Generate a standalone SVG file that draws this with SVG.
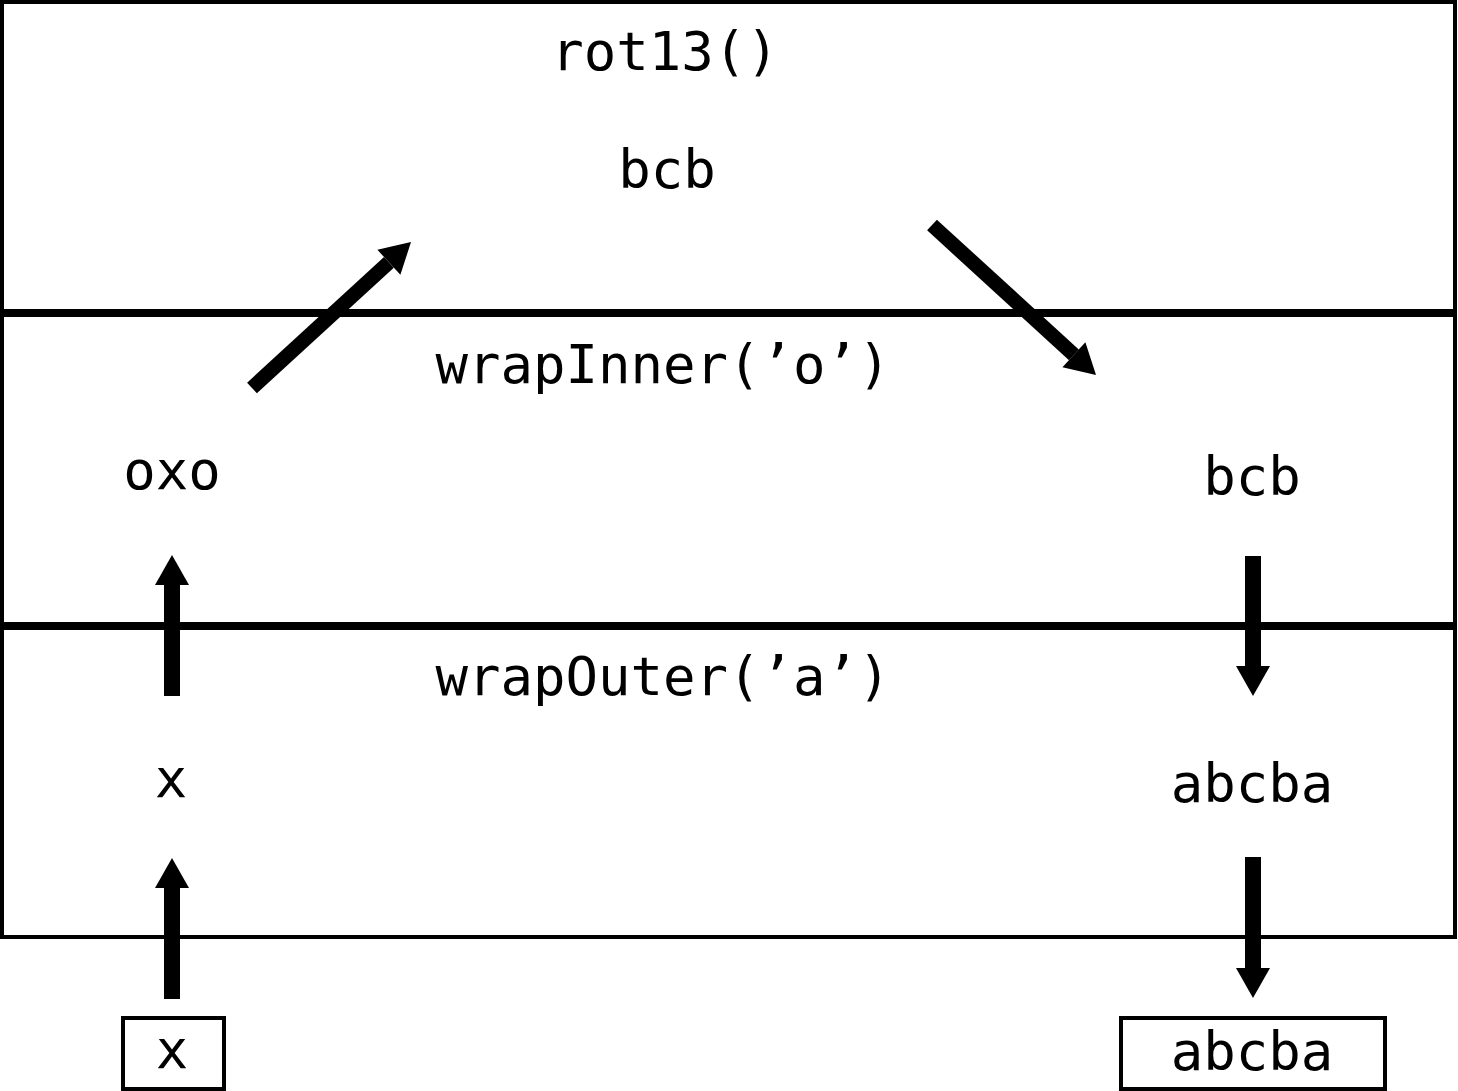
<svg xmlns="http://www.w3.org/2000/svg" width="1458" height="1091" viewBox="0 0 1458 1091">
<style>
  text { font-family: "DejaVu Sans Mono", "Liberation Mono", monospace; font-size: 54px; fill: #000; text-anchor: middle; }
  .frame { fill: #fff; stroke: #000; stroke-width: 4; }
  .divider { stroke: #000; stroke-width: 8; }
  .box { fill: #fff; stroke: #000; stroke-width: 4; }
  .arrow { stroke: #000; stroke-width: 16; fill: none; marker-end: url(#head); }
  .diag { stroke-width: 14.5; }
</style>
<defs>
  <marker id="head" markerUnits="userSpaceOnUse" markerWidth="32" markerHeight="36" refX="0" refY="17" orient="auto" overflow="visible">
    <path d="M0,0 L30,17 L0,34 Z" fill="#000"/>
  </marker>
</defs>
<rect width="1458" height="1091" fill="#fff"/>
<g id="layers">
  <rect class="frame" x="2" y="2" width="1453" height="935"/>
  <line class="divider" x1="0" y1="313" x2="1456" y2="313"/>
  <line class="divider" x1="0" y1="626" x2="1456" y2="626"/>
</g>
<g id="layer-rot13">
  <text x="665" y="70">rot13()</text>
  <text x="667" y="188">bcb</text>
</g>
<g id="layer-wrapInner">
  <text x="663" y="383">wrapInner(’o’)</text>
  <text x="172" y="489">oxo</text>
  <text x="1252" y="495">bcb</text>
</g>
<g id="layer-wrapOuter">
  <text x="663" y="695">wrapOuter(’a’)</text>
  <text x="171" y="797">x</text>
  <text x="1252" y="802">abcba</text>
</g>
<g id="input">
  <rect class="box" x="123" y="1018" width="101" height="71"/>
  <text x="172" y="1068">x</text>
</g>
<g id="output">
  <rect class="box" x="1121" y="1018" width="264" height="71"/>
  <text x="1252" y="1070">abcba</text>
</g>
<g id="connectors">
  <line class="arrow" x1="172" y1="999" x2="172" y2="888"/>
  <line class="arrow" x1="172" y1="696" x2="172" y2="585"/>
  <line class="arrow diag" x1="252" y1="388" x2="388.9" y2="262.3"/>
  <line class="arrow diag" x1="932" y1="225" x2="1073.9" y2="354.8"/>
  <line class="arrow" x1="1253" y1="556" x2="1253" y2="666"/>
  <line class="arrow" x1="1253" y1="857" x2="1253" y2="968"/>
</g>
</svg>
